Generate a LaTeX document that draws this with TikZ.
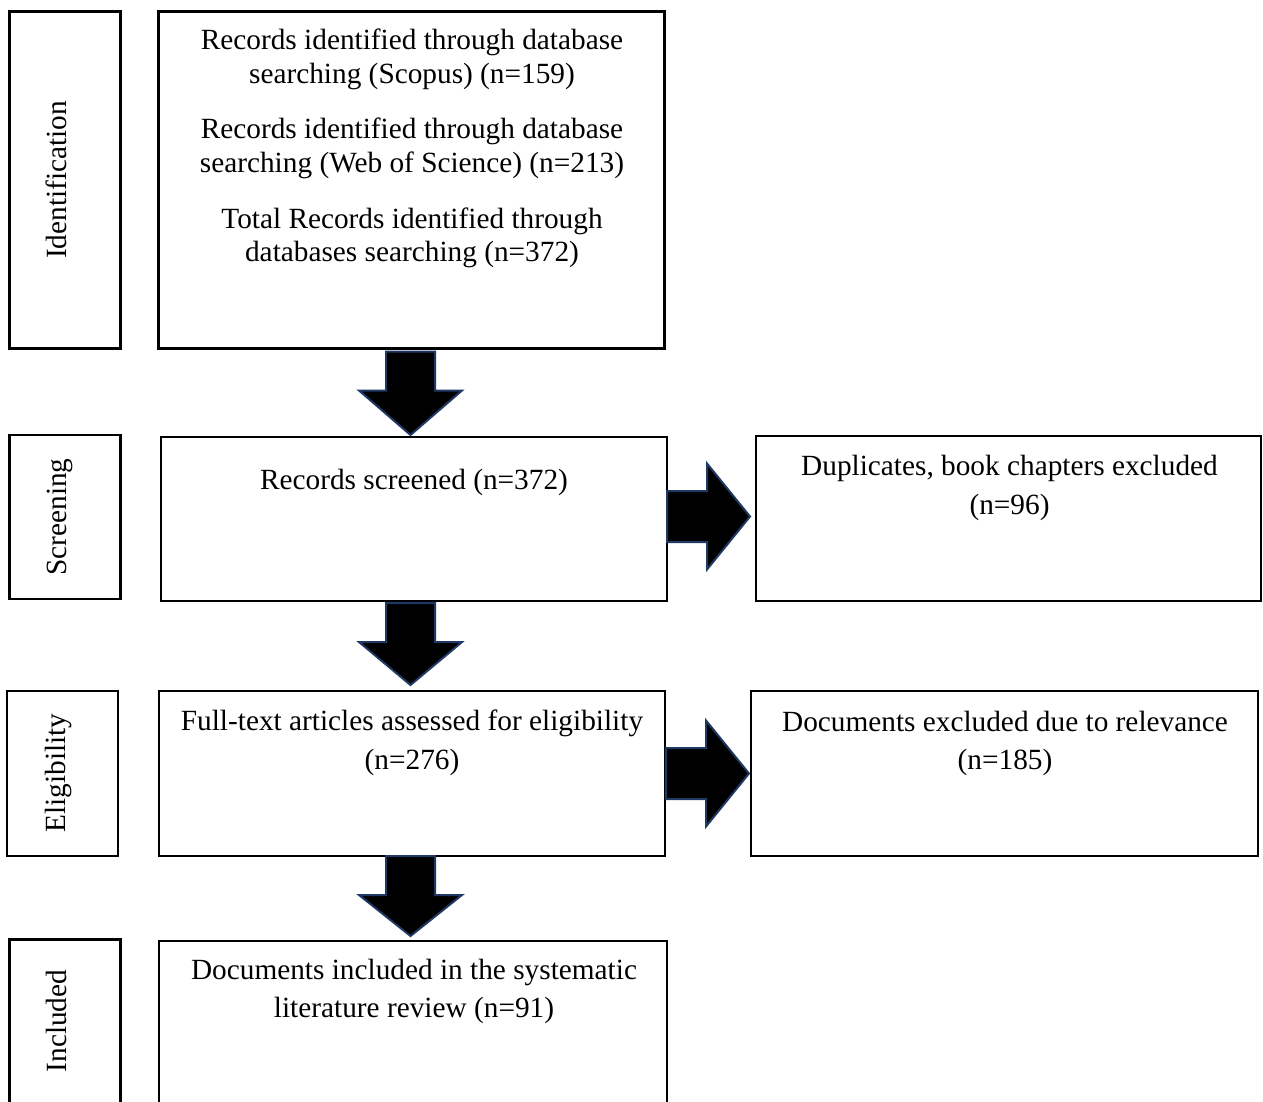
\documentclass[tikz,border=0pt]{standalone}
\usepackage{fontspec}
\setmainfont{Liberation Serif}
\usetikzlibrary{calc}
\definecolor{arrowedge}{HTML}{1F3864}
\newcommand{\dnarrow}[2]{%
  \draw[blk] ($(#1)+(-24.5,0)$) -- ($(#1)+(-24.5,-39)$) -- ($(#1)+(-51.5,-39)$)
    -- (#2) -- ($(#1)+(51.5,-39)$) -- ($(#1)+(24.5,-39)$) -- ($(#1)+(24.5,0)$) -- cycle;}
\newcommand{\rtarrow}[2]{%
  \draw[blk] ($(#1)+(0,25.5)$) -- ($(#1)+(40,25.5)$) -- ($(#1)+(40,53)$)
    -- (#2) -- ($(#1)+(40,-53)$) -- ($(#1)+(40,-25.5)$) -- ($(#1)+(0,-25.5)$) -- cycle;}
\begin{document}
\begin{tikzpicture}[x=1pt,y=1pt,
  frame/.style={inner sep=0pt, outer sep=0pt, draw=black, line width=2.6pt},
  txt/.style={inner sep=0pt, anchor=base, font=\fontsize{29.3}{33.5}\selectfont},
  vtxt/.style={inner sep=0pt, anchor=base, rotate=90, font=\fontsize{29.3}{33.5}\selectfont},
  blk/.style={fill=black, draw=arrowedge, line width=2pt, line join=miter}]
\clip (0,0) rectangle (1263,-1102);
\fill[white] (0,0) rectangle (1263,-1102);
% boxes
\node[frame,minimum width=111,minimum height=337] (idlab) at (65,-180) {};
\node[frame,minimum width=506,minimum height=337] (idbox) at (411.5,-180) {};
\node[frame,minimum width=111,minimum height=164] (sclab) at (65,-517) {};
\node[frame,minimum width=506,minimum height=164] (scbox) at (414,-519) {};
\node[frame,minimum width=505,minimum height=165] (dup) at (1008.5,-518.5) {};
\node[frame,minimum width=111,minimum height=165] (ellab) at (62.5,-773.5) {};
\node[frame,minimum width=506,minimum height=165] (elbox) at (412,-773.5) {};
\node[frame,minimum width=507,minimum height=165] (exc) at (1004.5,-773.5) {};
\node[frame,minimum width=111,minimum height=190] (inlab) at (65,-1034.5) {};
\node[frame,minimum width=508,minimum height=188] (inbox) at (413,-1035) {};
% side labels
\node[vtxt] (tid) at (66,-180) {Identification};
\node[vtxt] (tsc) at (66,-517) {Screening};
\node[vtxt] (tel) at (65,-773) {Eligibility};
\node[vtxt] (tin) at (66,-1021) {Included};
% texts
\node[txt] (t1) at (412,-50) {Records identified through database};
\node[txt] (t2) at (412,-83.5) {searching (Scopus) (n=159)};
\node[txt] (t3) at (412,-139) {Records identified through database};
\node[txt] (t4) at (412,-172.5) {searching (Web of Science) (n=213)};
\node[txt] (t5) at (412,-228) {Total Records identified through};
\node[txt] (t6) at (412,-261.5) {databases searching (n=372)};
\node[txt] (t7) at (414,-489) {Records screened (n=372)};
\node[txt] (t8) at (1009.5,-475) {Duplicates, book chapters excluded};
\node[txt] (t9) at (1009.5,-514) {(n=96)};
\node[txt] (t10) at (412,-730) {Full-text articles assessed for eligibility};
\node[txt] (t11) at (412,-769) {(n=276)};
\node[txt] (t12) at (1005,-731) {Documents excluded due to relevance};
\node[txt] (t13) at (1005,-769) {(n=185)};
\node[txt] (t14) at (414,-979) {Documents included in the systematic};
\node[txt] (t15) at (414,-1017) {literature review (n=91)};
% arrows
\coordinate (d1s) at ($(idbox.south)+(-1,-3)$);
\coordinate (d1e) at ($(d1s |- scbox.north)+(0,2)$);
\dnarrow{d1s}{d1e}
\coordinate (d2s) at ($(d1s |- scbox.south)+(0,-2)$);
\coordinate (d2e) at ($(d1s |- elbox.north)+(0,6)$);
\dnarrow{d2s}{d2e}
\coordinate (d3s) at ($(d1s |- elbox.south)+(0,0)$);
\coordinate (d3e) at ($(d1s |- inbox.north)+(0,5)$);
\dnarrow{d3s}{d3e}
\coordinate (r1s) at ($(scbox.east)+(0,2.5)$);
\coordinate (r1e) at ($(r1s -| dup.west)+(-6,0)$);
\rtarrow{r1s}{r1e}
\coordinate (r2s) at ($(elbox.east)+(1,0)$);
\coordinate (r2e) at ($(r2s -| exc.west)+(-2,0)$);
\rtarrow{r2s}{r2e}
\end{tikzpicture}
\end{document}
